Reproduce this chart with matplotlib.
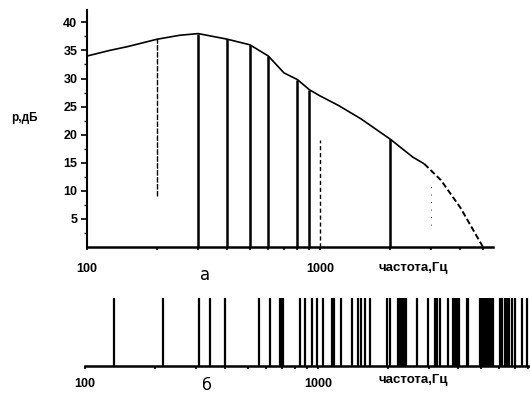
import matplotlib
matplotlib.use("Agg")
import matplotlib.pyplot as plt
from matplotlib.ticker import FixedLocator, LogLocator, NullFormatter, FixedFormatter

# ---- data (panel a) ----
curve_freq = [100, 125, 150, 200, 250, 300, 400, 500, 600, 700, 800, 900, 1000,
              1200, 1500, 2000, 2500, 2800]
curve_db = [34, 35, 35.7, 37, 37.7, 38, 37, 36, 34, 31, 29.8, 28, 26.9,
            25.2, 22.8, 19.2, 16.0, 14.8]
tail_freq = [2800, 3300, 4000, 4500, 5000]
tail_db = [14.8, 11.9, 7.0, 3.3, 0.0]

line_freq = [300, 400, 500, 600, 800, 900, 2000]
line_top = [38, 37, 36, 34, 29.8, 28, 19.2]

faint_freq = [200, 1000, 3000]
faint_lo = [9, 0, 4]
faint_hi = [37, 19, 12]

y_ticks = [5, 10, 15, 20, 25, 30, 35, 40]
y_ticklabels = ["5", "10", "15", "20", "25", "30", "35", "40"]
x_ticks = [100, 1000]
x_ticklabels = ["100", "1000"]

# ---- data (panel б) ----
comp_freq = [133, 216, 310, 344, 399, 558, 622, 690, 700, 710, 837, 880, 942, 991,
             1050, 1148, 1172, 1256, 1400, 1486, 1531, 1593, 1672, 1977, 2037,
             2200, 2250, 2300, 2350, 2400, 2661, 2965, 3180, 3260, 3340, 3614,
             3800, 3870, 3950, 4050, 4355, 4400, 4950, 5050, 5150, 5250, 5350,
             5450, 5550, 5640, 6040, 6200, 6350, 6500, 6650, 6800, 7000, 7520, 7890]

font_list = ["Liberation Sans Narrow", "Liberation Sans", "DejaVu Sans"]
plt.rcParams["font.family"] = font_list

fig = plt.figure(figsize=(5.30, 3.96), dpi=100)

# ---------- panel a ----------
axa = fig.add_axes([87 / 530, 1 - 247 / 396, (493 - 87) / 530, (247 - 10) / 396])
axa.set_xscale("log")
axa.set_xlim(100, 5520)
axa.set_ylim(0, 42.2)
axa.plot(curve_freq, curve_db, color="black", lw=1.2, solid_capstyle="butt")
axa.plot(tail_freq, tail_db, color="black", lw=1.4, ls=(0, (3, 1.5)))
axa.vlines(line_freq, 0, line_top, color="black", lw=1.8)
axa.vlines(faint_freq[0], faint_lo[0], faint_hi[0], color="black", lw=1.0, ls=(0, (4, 1)))
axa.vlines(faint_freq[1], faint_lo[1], faint_hi[1], color="black", lw=1.0, ls=(0, (3, 2)))
axa.vlines(faint_freq[2], faint_lo[2], faint_hi[2], color="black", lw=0.6, ls=(0, (1, 8)))
for s in ["top", "right"]:
    axa.spines[s].set_visible(False)
axa.spines["left"].set_linewidth(1.5)
axa.spines["bottom"].set_linewidth(1.8)
axa.yaxis.set_major_locator(FixedLocator(y_ticks))
axa.yaxis.set_major_formatter(FixedFormatter(y_ticklabels))
axa.yaxis.set_minor_locator(FixedLocator([2.5 + 5 * i for i in range(8)]))
axa.xaxis.set_major_locator(FixedLocator(x_ticks))
axa.xaxis.set_major_formatter(FixedFormatter(x_ticklabels))
axa.xaxis.set_minor_locator(LogLocator(base=10, subs=range(2, 10)))
axa.xaxis.set_minor_formatter(NullFormatter())
axa.tick_params(axis="y", which="major", length=4, width=1.2, pad=3, labelsize=9)
axa.tick_params(axis="y", which="minor", length=2.5, width=1.0)
axa.tick_params(axis="x", which="both", length=2.5, width=1.2, pad=9, labelsize=9)
for lab in axa.get_xticklabels() + axa.get_yticklabels():
    lab.set_fontweight("bold")

fig.text(24 / 530, 1 - 118 / 396, "р,дБ", ha="center", va="center",
         fontsize=8.5, fontweight="bold")
fig.text(205 / 530, 1 - 275 / 396, "а", ha="center", va="center",
         fontsize=12, family="DejaVu Sans")
fig.text(413 / 530, 1 - 268 / 396, "частота,Гц", ha="center", va="center",
         fontsize=9.5, fontweight="bold")

# ---------- panel б ----------
axb = fig.add_axes([85 / 530, 1 - 366 / 396, (530 - 85) / 530, (366 - 298) / 396])
axb.set_xscale("log")
axb.set_xlim(100, 8150)
axb.set_ylim(0, 1)
axb.vlines(comp_freq, 0, 1, color="black", lw=1.6)
for s in ["top", "right", "left"]:
    axb.spines[s].set_visible(False)
axb.spines["bottom"].set_linewidth(1.8)
axb.set_yticks([])
axb.xaxis.set_major_locator(FixedLocator(x_ticks))
axb.xaxis.set_major_formatter(FixedFormatter(x_ticklabels))
axb.xaxis.set_minor_locator(LogLocator(base=10, subs=range(2, 10)))
axb.xaxis.set_minor_formatter(NullFormatter())
axb.tick_params(axis="x", which="both", length=2.5, width=1.2, pad=6, labelsize=9)
for lab in axb.get_xticklabels():
    lab.set_fontweight("bold")

fig.text(207 / 530, 1 - 385 / 396, "б", ha="center", va="center",
         fontsize=11.5, family="DejaVu Sans")
fig.text(413 / 530, 1 - 380 / 396, "частота,Гц", ha="center", va="center",
         fontsize=9.5, fontweight="bold")

fig.savefig("out.png", dpi=100, facecolor="white")
